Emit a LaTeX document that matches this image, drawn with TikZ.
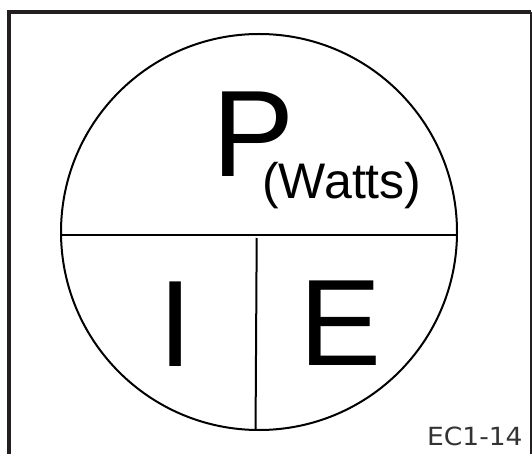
\documentclass[tikz,border=0pt]{standalone}
\usepackage{fontspec}
\setmainfont{Liberation Sans}
\newfontfamily\labelfont[FakeStretch=1.06]{DejaVu Sans}
\definecolor{framecol}{HTML}{231F20}
\definecolor{codecol}{HTML}{333333}
\begin{document}
\begin{tikzpicture}[x=1pt,y=-1pt,
  bigletter/.style={inner sep=0pt,anchor=base west,font=\fontsize{123}{123}\selectfont},
  unitlabel/.style={inner sep=0pt,anchor=base west,font=\fontsize{50}{50}\selectfont},
  codelabel/.style={inner sep=0pt,anchor=base west,text=codecol,font=\labelfont\fontsize{25}{25}\selectfont},
  divline/.style={line width=2pt,black}]
\useasboundingbox (0,0) rectangle (532,454);
% frame
\draw[framecol,line width=4pt] (9,454) -- (9,12) -- (531,12);
\draw[framecol,line width=1.5pt] (530.8,12) -- (530.8,454);
% circle
\node[circle,draw,line width=2pt,minimum size=396pt,inner sep=0pt,outer sep=0pt] (c) at (259,232) {};
\draw[divline] (c.181.74) -- (c.-1.74);
\coordinate (mid) at (256.7,238);
\draw[divline] (mid) -- (c.269.33);
% labels
\node[bigletter] (p) at (212.5,177) {P};
\node[unitlabel] (w) at (262,199) {(Watts)};
\node[bigletter] (i) at (158.6,366) {I};
\node[bigletter] (e) at (299.3,365) {E};
\node[codelabel] (code) at (427,445.5) {EC1-14};
\end{tikzpicture}
\end{document}
